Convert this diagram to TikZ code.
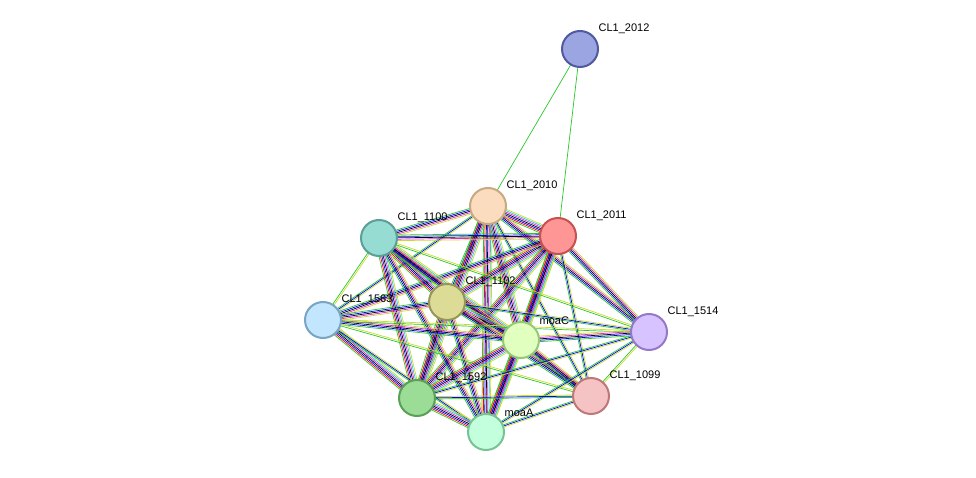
\documentclass[tikz,border=0pt]{standalone}
\usepackage{fontspec}
\setmainfont{Liberation Sans}
\usetikzlibrary{calc, backgrounds}
\definecolor{tm}{RGB}{200,220,40}
\definecolor{nb}{RGB}{40,200,40}
\definecolor{cy}{RGB}{40,200,220}
\definecolor{mg}{RGB}{220,40,220}
\tikzset{
    protnode/.style = {draw, circle, minimum size=36pt, inner sep=0pt, line width=2pt},
    protlabel/.style = {label={[anchor=south west, inner sep=0pt, xshift=5pt, yshift=2pt, font=\fontsize{11}{13}\selectfont]45:#1}},
    link/.style = {line width=0.7pt}
}
% colour sets for the evidence lines
\def\full{nb/-4.2,red/-2.8,blue/-1.4,black/0,mg/1.4,cy/2.8,tm/4.2}
\def\mid{nb/-2.8,blue/-1.4,black/0,mg/1.4,tm/2.8}
\def\few{nb/-1.2,blue/0,tm/1.2}
\def\two{nb/-0.8,tm/0.8}
\def\one{nb/0}
\newcommand{\sedge}[3]{%
    \foreach \c/\o in #3 {
        \draw[link, \c] ($(#1)!\o pt!90:(#2)$) -- ($(#2)!\o pt!-90:(#1)$);
    }
}
\begin{document}
\begin{tikzpicture}[x=1pt, y=-1pt]
    \useasboundingbox (0,0) rectangle (976,478);

    \node [name=n2012, protnode, fill={rgb,255:red,155;green,165;blue,225}, draw={rgb,255:red,80;green,90;blue,160}, protlabel={CL1\_2012}] at (580,49) {};
    \node [name=n2010, protnode, fill={rgb,255:red,252;green,220;blue,190}, draw={rgb,255:red,200;green,170;blue,130}, protlabel={CL1\_2010}] at (488,206) {};
    \node [name=n2011, protnode, fill={rgb,255:red,255;green,150;blue,150}, draw={rgb,255:red,200;green,80;blue,80}, protlabel={CL1\_2011}] at (558,236) {};
    \node [name=n1100, protnode, fill={rgb,255:red,150;green,220;blue,210}, draw={rgb,255:red,90;green,160;blue,150}, protlabel={CL1\_1100}] at (379,238) {};
    \node [name=n1102, protnode, fill={rgb,255:red,220;green,220;blue,150}, draw={rgb,255:red,150;green,150;blue,90}, protlabel={CL1\_1102}] at (447,302) {};
    \node [name=n1563, protnode, fill={rgb,255:red,195;green,230;blue,255}, draw={rgb,255:red,120;green,165;blue,195}, protlabel={CL1\_1563}] at (323,320) {};
    \node [name=moaC, protnode, fill={rgb,255:red,225;green,255;blue,190}, draw={rgb,255:red,150;green,200;blue,120}, protlabel={moaC}] at (521,340) {};
    \node [name=n1514, protnode, fill={rgb,255:red,215;green,195;blue,255}, draw={rgb,255:red,150;green,120;blue,200}, protlabel={CL1\_1514}] at (649,332) {};
    \node [name=n1592, protnode, fill={rgb,255:red,155;green,220;blue,150}, draw={rgb,255:red,90;green,160;blue,85}, protlabel={CL1\_1592}] at (417,398) {};
    \node [name=n1099, protnode, fill={rgb,255:red,245;green,195;blue,195}, draw={rgb,255:red,190;green,120;blue,120}, protlabel={CL1\_1099}] at (591,396) {};
    \node [name=moaA, protnode, fill={rgb,255:red,195;green,255;blue,220}, draw={rgb,255:red,120;green,195;blue,150}, protlabel={moaA}] at (486,432) {};

    \begin{scope}[on background layer]
    \sedge{n2012}{n2010}{\one}
    \sedge{n2012}{n2011}{\one}
    \sedge{n2010}{n2011}{\full}
    \sedge{n2010}{n1100}{\mid}
    \sedge{n2010}{n1102}{\mid}
    \sedge{n2010}{n1563}{\few}
    \sedge{n2010}{moaC}{\full}
    \sedge{n2010}{n1514}{\mid}
    \sedge{n2010}{n1592}{\full}
    \sedge{n2010}{n1099}{\few}
    \sedge{n2010}{moaA}{\full}
    \sedge{n2011}{n1100}{\mid}
    \sedge{n2011}{n1102}{\full}
    \sedge{n2011}{n1563}{\mid}
    \sedge{n2011}{moaC}{\full}
    \sedge{n2011}{n1514}{\mid}
    \sedge{n2011}{n1592}{\full}
    \sedge{n2011}{n1099}{\few}
    \sedge{n2011}{moaA}{\full}
    \sedge{n1100}{n1102}{\full}
    \sedge{n1100}{n1563}{\two}
    \sedge{n1100}{moaC}{\full}
    \sedge{n1100}{n1514}{\two}
    \sedge{n1100}{n1592}{\full}
    \sedge{n1100}{n1099}{\mid}
    \sedge{n1100}{moaA}{\mid}
    \sedge{n1102}{n1563}{\mid}
    \sedge{n1102}{moaC}{\full}
    \sedge{n1102}{n1514}{\few}
    \sedge{n1102}{n1592}{\full}
    \sedge{n1102}{n1099}{\mid}
    \sedge{n1102}{moaA}{\mid}
    \sedge{n1563}{moaC}{\mid}
    \sedge{n1563}{n1514}{\two}
    \sedge{n1563}{n1592}{\full}
    \sedge{n1563}{n1099}{\two}
    \sedge{n1563}{moaA}{\few}
    \sedge{moaC}{n1514}{\mid}
    \sedge{moaC}{n1592}{\full}
    \sedge{moaC}{n1099}{\mid}
    \sedge{moaC}{moaA}{\full}
    \sedge{n1514}{n1592}{\few}
    \sedge{n1514}{n1099}{\two}
    \sedge{n1514}{moaA}{\few}
    \sedge{n1592}{n1099}{\few}
    \sedge{n1592}{moaA}{\full}
    \sedge{n1099}{moaA}{\few}
    \end{scope}
\end{tikzpicture}
\end{document}
